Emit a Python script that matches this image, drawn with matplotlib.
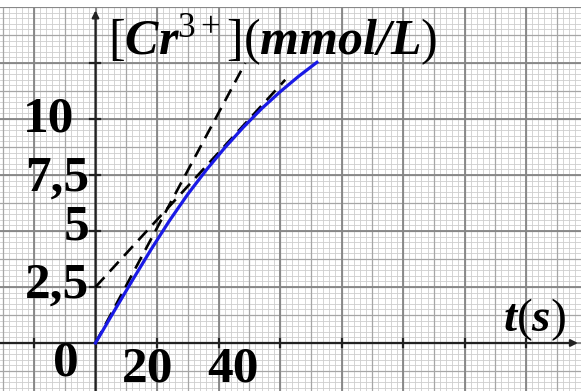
import numpy as np
import matplotlib
matplotlib.use("Agg")
import matplotlib.pyplot as plt

plt.rcParams['mathtext.fontset'] = 'custom'
plt.rcParams['mathtext.rm'] = 'Liberation Serif'
plt.rcParams['mathtext.it'] = 'Liberation Serif:italic'
plt.rcParams['mathtext.bf'] = 'Liberation Serif:bold'
try:
    plt.rcParams['mathtext.bfit'] = 'Liberation Serif:bold:italic'
    BFIT = r'\mathbfit'
except KeyError:
    BFIT = r'\mathbf'

# ---- data ----
t_curve = [0, 6, 12, 18, 24, 30, 36, 42, 48, 54, 60, 66, 72]
c_curve = [0, 1.41, 2.80, 4.16, 5.45, 6.64, 7.72, 8.71, 9.62, 10.46, 11.21, 11.90, 12.53]

tangent0_t = [0, 48.7]
tangent0_c = [0, 12.5]
tangent1_t = [0, 61.7]
tangent1_c = [2.5, 11.75]

y_tick_vals = [0, 2.5, 5, 7.5, 10]
y_tick_labels = ['0', '2,5', '5', '7,5', '10']
x_tick_vals = [20, 40]
x_tick_labels = ['20', '40']

W, H = 581, 391
fig = plt.figure(figsize=(W / 100, H / 100), dpi=100)
fig.patch.set_facecolor('white')
top_px = 7
ax = fig.add_axes([0, 0, 1, (H - top_px) / H])
ax.set_facecolor('#eaeaea')

px_per_s = 3.075
px_per_c = 22.4
x0_px, y0_px = 95.5, 343
xmin = -x0_px / px_per_s
xmax = (W - x0_px) / px_per_s
ymax = (y0_px - top_px) / px_per_c
ymin = (y0_px - H) / px_per_c
ax.set_xlim(xmin, xmax)
ax.set_ylim(ymin, ymax)
ax.axis('off')

# graph paper grid
for v in np.arange(-30, 160, 2):
    ax.axvline(v, color='#cdcdcd', lw=0.6, zorder=0)
for v in np.arange(-2, 15.1, 0.25):
    ax.axhline(v, color='#cdcdcd', lw=0.6, zorder=0)
for v in np.arange(-30, 160, 10):
    ax.axvline(v, color='#a6a6a6', lw=0.9, zorder=0.5)
for v in np.arange(-1.25, 15.1, 1.25):
    ax.axhline(v, color='#a6a6a6', lw=0.9, zorder=0.5)
for v in np.arange(-20, 160, 20):
    ax.axvline(v, color='#858585', lw=1.3, zorder=0.6)
for v in np.arange(0, 15.1, 2.5):
    ax.axhline(v, color='#858585', lw=1.3, zorder=0.6)

# axes with arrows
ax.annotate('', xy=(156.9, 0), xytext=(xmin, 0),
            arrowprops=dict(arrowstyle='-|>', color='#222222', lw=1.6,
                            mutation_scale=10, shrinkA=0, shrinkB=0), zorder=2)
ax.annotate('', xy=(0, 14.85), xytext=(0, ymin),
            arrowprops=dict(arrowstyle='-|>', color='#222222', lw=1.6,
                            mutation_scale=10, shrinkA=0, shrinkB=0), zorder=2)
for v in np.arange(-20, 150, 20):
    ax.plot([v, v], [-0.18, 0.18], color='#222222', lw=1.6, zorder=2)
for v in np.arange(2.5, 13, 2.5):
    ax.plot([-1.8, 1.5], [v, v], color='#222222', lw=1.6, zorder=2)

# curve and tangents
ax.plot(tangent0_t, tangent0_c, color='black', lw=1.9, ls=(0, (5, 3)), zorder=3)
ax.plot(tangent1_t, tangent1_c, color='black', lw=1.9, ls=(0, (5, 3)), zorder=3)
ax.plot(t_curve, c_curve, color='#1a1ae6', lw=2.3, zorder=4, solid_joinstyle='round')

# tick labels
def fx(px):
    return px / W

def fy(py):
    return 1 - py / H

num_font = dict(family='Liberation Serif', fontweight='bold', fontsize=37, color='black')
y_label_pos = {'0': (66, 376, 'center'), '2,5': (89, 298, 'right'), '5': (89, 240, 'right'),
               '7,5': (89, 191, 'right'), '10': (74, 131, 'right')}
for val, lab in zip(y_tick_vals, y_tick_labels):
    px, py, ha = y_label_pos[lab]
    fig.text(fx(px), fy(py), lab, ha=ha, va='baseline', **num_font)
x_label_pos = {'20': 148, '40': 233}
for val, lab in zip(x_tick_vals, x_tick_labels):
    fig.text(fx(x_label_pos[lab]), fy(381), lab, ha='center', va='baseline', **num_font)

fig.text(fx(108), fy(54), r'$[' + BFIT + r'{Cr}^{3+}](' + BFIT + r'{mmol/L})$',
         ha='left', va='baseline', fontsize=36, color='black')
fig.text(fx(503), fy(331), r'$' + BFIT + r'{t}(' + BFIT + r'{s})$',
         ha='left', va='baseline', fontsize=34, color='black')

fig.savefig('out.png', dpi=100, facecolor='white')
